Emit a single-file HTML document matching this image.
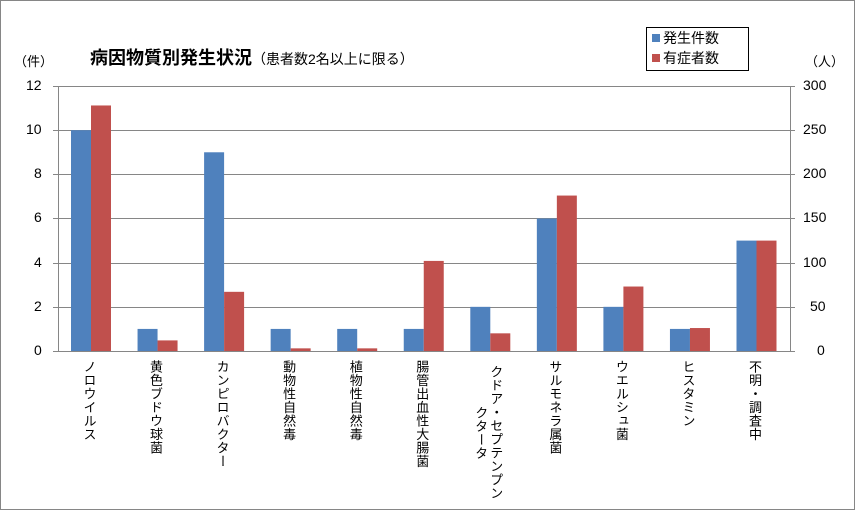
<!DOCTYPE html>
<html><head><meta charset="utf-8">
<style>
body{margin:0;background:#fff;}
#c{position:relative;width:855px;height:510px;overflow:hidden;font-family:"Liberation Sans","Noto Sans CJK JP",sans-serif;color:#000;}
.frame{position:absolute;left:0;top:0;width:853px;height:508px;border:1px solid #868686;}
.lbl{position:absolute;top:360px;writing-mode:vertical-rl;text-orientation:upright;font-size:13px;line-height:15px;letter-spacing:0.5px;}
.t{position:absolute;font-size:14px;}
</style></head><body>
<div id="c">
<div class="frame"></div>
<svg width="855" height="510" style="position:absolute;left:0;top:0">
<g stroke="#868686" stroke-width="1">
<line x1="58" y1="86.5" x2="790" y2="86.5"/>
<line x1="58" y1="130.5" x2="790" y2="130.5"/>
<line x1="58" y1="174.5" x2="790" y2="174.5"/>
<line x1="58" y1="218.5" x2="790" y2="218.5"/>
<line x1="58" y1="263.5" x2="790" y2="263.5"/>
<line x1="58" y1="307.5" x2="790" y2="307.5"/>
<line x1="58" y1="351.5" x2="795" y2="351.5"/>
<line x1="58.5" y1="86" x2="58.5" y2="351"/>
<line x1="790.5" y1="86" x2="790.5" y2="351"/>
<line x1="53" y1="86.5" x2="58" y2="86.5"/><line x1="53" y1="130.5" x2="58" y2="130.5"/><line x1="53" y1="174.5" x2="58" y2="174.5"/><line x1="53" y1="218.5" x2="58" y2="218.5"/><line x1="53" y1="263.5" x2="58" y2="263.5"/><line x1="53" y1="307.5" x2="58" y2="307.5"/><line x1="53" y1="351.5" x2="58" y2="351.5"/>
<line x1="790" y1="86.5" x2="795" y2="86.5"/><line x1="790" y1="130.5" x2="795" y2="130.5"/><line x1="790" y1="174.5" x2="795" y2="174.5"/><line x1="790" y1="218.5" x2="795" y2="218.5"/><line x1="790" y1="263.5" x2="795" y2="263.5"/><line x1="790" y1="307.5" x2="795" y2="307.5"/>
</g>
<g id="bars"></g>
</svg>
<div class="t" style="left:14px;top:51px;font-size:13px">（件）</div>
<div class="t" style="left:90px;top:44px;font-size:18px;font-weight:bold">病因物質別発生状況<span style="font-size:14px;font-weight:normal">（患者数2名以上に限る）</span></div>
<div class="t" style="left:805px;top:51px;font-size:13px">（人）</div>
<div style="position:absolute;left:646px;top:27px;width:101px;height:42px;border:1px solid #000;font-size:14px;line-height:20px">
<div style="padding-left:16px;position:relative">発生件数<span style="position:absolute;left:5px;top:6px;width:8px;height:8px;background:#4f81bd"></span></div>
<div style="padding-left:16px;position:relative">有症者数<span style="position:absolute;left:5px;top:6px;width:8px;height:8px;background:#c0504d"></span></div>
</div>
<div id="yl"></div>
<div id="lb"></div>
</div>
<script>
var b=[10,1,9,1,1,1,2,6,2,1,5],r=[278,12,67,3,3,102,20,176,73,26,125];
var s='';
for(var i=0;i<11;i++){var x=58+i*66.55+13;
var h=b[i]*22.08;s+='<rect x="'+x+'" y="'+(351-h)+'" width="20" height="'+h+'" fill="#4f81bd"/>';
var h2=r[i]*22.08/25;s+='<rect x="'+(x+20)+'" y="'+(351-h2)+'" width="20" height="'+h2+'" fill="#c0504d"/>';}
document.getElementById('bars').innerHTML=s;
var y='';
for(var k=0;k<=6;k++){var yy=351-k*44.17-9;
y+='<div class="t" style="left:'+(k*2>=10?26:34)+'px;top:'+yy+'px;width:20px">'+(k*2)+'</div>';
var v=k*50;y+='<div class="t" style="left:'+(v>=100?803:(v>0?810:817))+'px;top:'+yy+'px">'+v+'</div>';}
document.getElementById('yl').innerHTML=y;
var L=['ノロウイルス','黄色ブドウ球菌','カンピロバクター','動物性自然毒','植物性自然毒','腸管出血性大腸菌','クドア・セプテンプン<br>クタータ','サルモネラ属菌','ウエルシュ菌','ヒスタミン','不明・調査中'];
var o='';
for(var i=0;i<11;i++){var cx=58+i*66.55+33;var w=(i==6)?30:15;
var ex=(i==6)?'height:145px;text-align:center;':'';
o+='<div class="lbl" style="'+ex+'left:'+(cx-w/2-2)+'px">'+L[i]+'</div>';}
document.getElementById('lb').innerHTML=o;
</script>
</body></html>
